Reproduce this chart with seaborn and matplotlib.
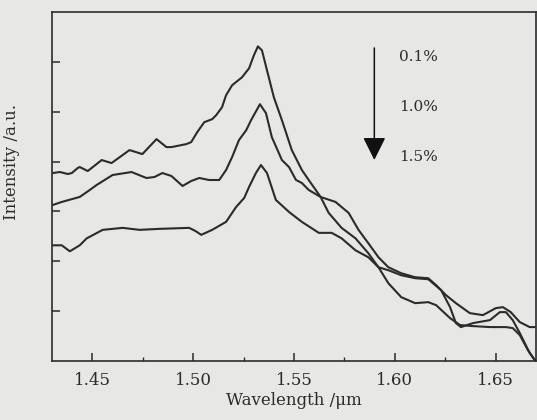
import matplotlib
matplotlib.use("Agg")
import matplotlib.pyplot as plt
import numpy as np
import pandas as pd
import seaborn as sns
from matplotlib.ticker import MultipleLocator

# wavelength (um) and intensity (a.u.)
wl_01 = [1.4304, 1.4339, 1.4378, 1.4398, 1.4427, 1.4437, 1.4477, 1.4546, 1.4595, 1.4684,
         1.4748, 1.4818, 1.4867, 1.4892, 1.4966, 1.4990, 1.5020, 1.5055, 1.5094, 1.5114,
         1.5143, 1.5163, 1.5193, 1.5242, 1.5277, 1.5301, 1.5321, 1.5341, 1.5366, 1.5400,
         1.5440, 1.5489, 1.5539, 1.5573, 1.5632, 1.5672, 1.5736, 1.5805, 1.5869, 1.5919,
         1.5968, 1.6032, 1.6101, 1.6166, 1.6205, 1.6274, 1.6324, 1.6388, 1.6472, 1.6551,
         1.6585, 1.6620, 1.6660, 1.6694]
int_01 = [3.77, 3.79, 3.75, 3.77, 3.87, 3.89, 3.81, 4.03, 3.97, 4.23,
          4.15, 4.45, 4.29, 4.29, 4.35, 4.39, 4.59, 4.79, 4.85, 4.93,
          5.09, 5.33, 5.53, 5.69, 5.87, 6.13, 6.31, 6.23, 5.83, 5.29,
          4.83, 4.23, 3.83, 3.63, 3.29, 2.97, 2.67, 2.46, 2.16, 1.88,
          1.56, 1.28, 1.16, 1.18, 1.12, 0.86, 0.72, 0.70, 0.68, 0.68,
          0.66, 0.52, 0.22, 0.02]

wl_10 = [1.4304, 1.4348, 1.4437, 1.4487, 1.4521, 1.4600, 1.4694, 1.4768, 1.4808, 1.4847,
         1.4892, 1.4947, 1.4990, 1.5030, 1.5079, 1.5129, 1.5163, 1.5193, 1.5227, 1.5263,
         1.5287, 1.5331, 1.5361, 1.5390, 1.5440, 1.5475, 1.5510, 1.5539, 1.5573, 1.5632,
         1.5706, 1.5771, 1.5820, 1.5869, 1.5919, 1.5968, 1.6032, 1.6101, 1.6166, 1.6205,
         1.6254, 1.6303, 1.6372, 1.6437, 1.6501, 1.6536, 1.6575, 1.6620, 1.6669, 1.6694]
int_10 = [3.13, 3.19, 3.29, 3.43, 3.53, 3.73, 3.79, 3.67, 3.69, 3.77,
          3.71, 3.51, 3.61, 3.67, 3.63, 3.63, 3.83, 4.09, 4.43, 4.63,
          4.83, 5.15, 4.97, 4.49, 4.03, 3.89, 3.63, 3.57, 3.43, 3.29,
          3.19, 2.97, 2.63, 2.36, 2.08, 1.88, 1.76, 1.68, 1.66, 1.52,
          1.32, 1.16, 0.96, 0.92, 1.06, 1.08, 0.98, 0.78, 0.68, 0.68]

wl_15 = [1.4304, 1.4348, 1.4388, 1.4437, 1.4472, 1.4551, 1.4650, 1.4734, 1.4832, 1.4980,
         1.5010, 1.5040, 1.5094, 1.5163, 1.5213, 1.5253, 1.5277, 1.5311, 1.5336, 1.5366,
         1.5410, 1.5475, 1.5539, 1.5623, 1.5687, 1.5736, 1.5805, 1.5869, 1.5919, 1.5968,
         1.6032, 1.6101, 1.6166, 1.6230, 1.6274, 1.6303, 1.6328, 1.6388, 1.6472, 1.6521,
         1.6551, 1.6585, 1.6620, 1.6669, 1.6694]
int_15 = [2.32, 2.32, 2.20, 2.32, 2.46, 2.63, 2.67, 2.63, 2.65, 2.67,
          2.61, 2.53, 2.63, 2.79, 3.09, 3.27, 3.49, 3.77, 3.93, 3.77,
          3.23, 2.99, 2.79, 2.57, 2.57, 2.46, 2.22, 2.08, 1.88, 1.82,
          1.72, 1.66, 1.64, 1.42, 1.08, 0.76, 0.68, 0.76, 0.82, 0.98,
          0.98, 0.82, 0.56, 0.16, 0.02]

labels = ["0.1%", "1.0%", "1.5%"]
x_ticks = [1.45, 1.50, 1.55, 1.60, 1.65]

df = pd.concat([
    pd.DataFrame({"wl": wl_01, "I": int_01, "c": labels[0]}),
    pd.DataFrame({"wl": wl_10, "I": int_10, "c": labels[1]}),
    pd.DataFrame({"wl": wl_15, "I": int_15, "c": labels[2]}),
])

sns.set_style("ticks")
paper = "#e7e7e5"
ink = "#2b2b2b"
plt.rcParams["font.family"] = ["DejaVu Serif"]

fig = plt.figure(figsize=(5.37, 4.2), dpi=100, facecolor=paper)
ax = fig.add_axes([0.097, 0.1405, 0.901, 0.831], facecolor=paper)

sns.lineplot(data=df, x="wl", y="I", hue="c", palette=[ink] * 3, units="c",
             estimator=None, legend=False, lw=1.5, ax=ax,
             solid_joinstyle="round", solid_capstyle="round")

ax.set_xlim(1.43, 1.67)
ax.set_ylim(0, 7)
ax.set_xticks(x_ticks)
ax.set_xticklabels([f"{t:.2f}" for t in x_ticks])
ax.xaxis.set_minor_locator(MultipleLocator(0.025))
ax.set_yticks(range(1, 7))
ax.set_yticklabels([])
ax.tick_params(axis="both", which="major", direction="in", length=6, width=1.1,
               colors=ink, labelsize=12, pad=8)
ax.tick_params(axis="x", which="minor", direction="in", length=3, width=1, colors=ink)
for s in ax.spines.values():
    s.set_color(ink)
    s.set_linewidth(1.2)

ax.set_xlabel("Wavelength /\u03bcm", fontsize=12, color=ink, labelpad=2)
ax.set_ylabel("Intensity /a.u.", fontsize=12, color=ink)
ax.yaxis.set_label_coords(-0.066, 0.57)

# concentration arrow and labels
ax.annotate("", xy=(0.666, 0.576), xytext=(0.666, 0.897), xycoords="axes fraction",
            arrowprops=dict(arrowstyle="-|>,head_length=1.4,head_width=0.7",
                            color="#111111", lw=1.1, shrinkA=0, shrinkB=0))
for lab, yy in zip(labels, [0.871, 0.728, 0.585]):
    ax.text(0.7175, yy, lab, transform=ax.transAxes, fontsize=11, color=ink,
            va="center", ha="left")

fig.savefig("out.png", dpi=100, facecolor=paper)
